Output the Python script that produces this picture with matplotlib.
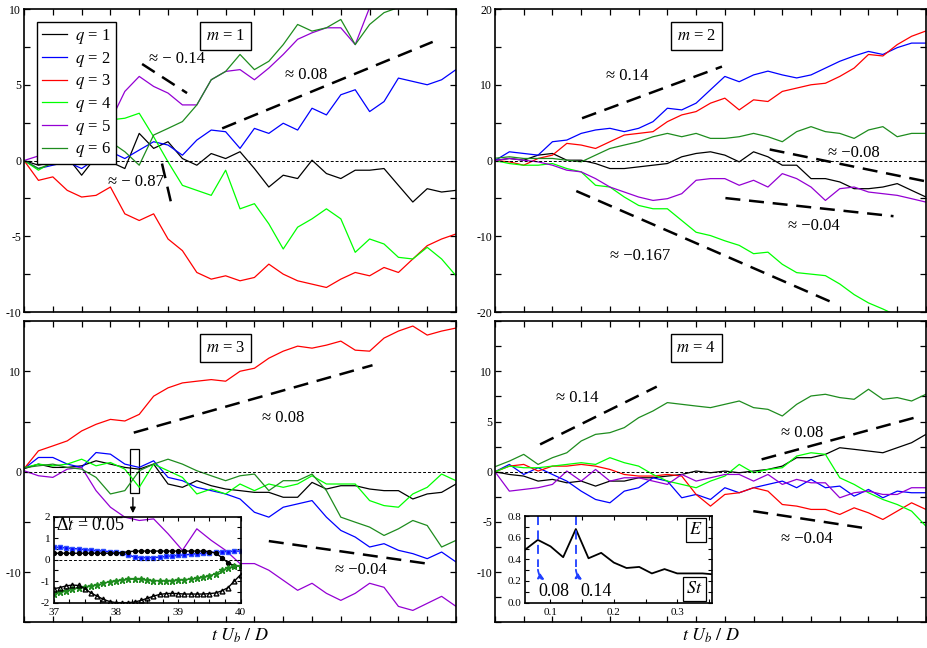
import matplotlib
matplotlib.use('Agg')
import matplotlib.pyplot as plt
from matplotlib.ticker import MultipleLocator, NullFormatter, FixedLocator
from matplotlib.patches import Rectangle

plt.rcParams['font.family'] = ['Liberation Serif', 'DejaVu Serif']
plt.rcParams['mathtext.fontset'] = 'stix'
plt.rcParams['axes.unicode_minus'] = False
plt.rcParams['axes.linewidth'] = 1.2

# time axis (t U_b / D), read every 5 units
t = [0, 5, 10, 15, 20, 25, 30, 35, 40, 45, 50, 55, 60, 65, 70, 75,
     80, 85, 90, 95, 100, 105, 110, 115, 120, 125, 130, 135, 140, 145, 150]

labels = ['$q$ = 1', '$q$ = 2', '$q$ = 3', '$q$ = 4', '$q$ = 5', '$q$ = 6']
colors = ['#000000', '#0000ff', '#ff0000', '#00ff00', '#9400d3', '#1e8c1e']

# m = 1
m1_q1 = [0, -0.31, -0.09, 0.24, -0.97, 0.24, -0.09, -0.53, 1.79, 0.80, 1.24, 0.13, -0.31, 0.46, 0.13, 0.58,
         -0.53, -1.75, -0.97, -1.19, 0.02, -0.86, -1.19, -0.64, -0.64, -0.53, -1.64, -2.74, -1.86, -2.08, -1.97]
m1_q2 = [0, -0.53, -0.31, -0.09, -0.53, 0.13, 0.58, 0.13, 0.69, 1.24, 1.02, 0.35, 1.35, 2.01, 1.90, 0.80,
         2.12, 1.79, 2.46, 2.01, 3.45, 3.01, 4.34, 4.67, 3.23, 3.89, 5.44, 5.22, 5.00, 5.33, 6.00]
m1_q3 = [0, -1.31, -1.08, -1.97, -2.41, -2.30, -1.75, -3.52, -3.96, -3.52, -5.18, -5.95, -7.39, -7.83, -7.61, -7.94,
         -7.72, -6.84, -7.50, -7.94, -8.16, -8.38, -7.83, -7.39, -7.61, -7.06, -7.39, -6.50, -5.62, -5.18, -4.85]
m1_q4 = [0, -0.64, -0.09, 0.35, 0.58, 1.90, 2.68, 2.79, 3.12, 1.57, -0.09, -1.64, -1.97, -2.30, -0.64, -3.19,
         -2.85, -4.18, -5.84, -4.40, -3.85, -3.19, -3.85, -6.06, -5.18, -5.51, -6.39, -6.50, -5.73, -6.50, -7.61]
m1_q5 = [0, 0.3, 0.6, 0.9, 1.4, 1.8, 2.6, 4.56, 5.55, 4.89, 4.45, 3.67, 3.67, 5.33, 5.88, 6.0,
         5.33, 6.1, 7.0, 8.0, 8.43, 8.76, 8.76, 7.65, 10.1, 10.8, 11.0, 10.6, 11.0, 11.2, 11.5]
m1_q6 = [0, -0.53, -0.2, 0.58, 0.91, 0.8, 1.24, 0.58, -0.31, 1.68, 2.12, 2.57, 3.67, 5.33, 5.88, 7.0,
         6.0, 6.55, 7.65, 8.98, 8.54, 8.76, 9.31, 7.65, 8.98, 9.76, 10.1, 10.2, 10.1, 10.05, 9.98]

# m = 2
m2_q1 = [0, 0.27, 0.04, 0.71, 0.93, 0.04, 0.04, -0.40, -1.06, -1.06, -0.84, -0.62, -0.40, 0.49, 0.93, 1.15,
         0.71, -0.18, 1.15, 0.49, -0.62, -0.62, -2.39, -2.39, -2.83, -3.72, -3.72, -3.50, -3.05, -3.94, -4.82]
m2_q2 = [0, 1.15, 0.93, 0.71, 2.48, 2.70, 3.58, 4.03, 4.25, 3.81, 4.25, 5.13, 6.90, 6.68, 7.57, 9.34,
         11.1, 10.4, 11.3, 11.8, 11.3, 10.9, 11.3, 12.2, 13.1, 13.8, 14.4, 14.0, 14.9, 15.5, 15.5]
m2_q3 = [0, -0.18, -0.62, 0.27, 0.71, 2.26, 2.04, 1.59, 2.48, 3.36, 3.58, 3.81, 5.13, 6.02, 6.46, 7.57,
         8.23, 6.68, 8.01, 7.79, 9.12, 9.56, 10.0, 10.2, 11.1, 12.2, 14.0, 13.8, 15.3, 16.4, 17.1]
m2_q4 = [0, -0.40, -0.62, -0.62, -0.40, -1.06, -1.50, -3.27, -3.50, -4.82, -5.93, -6.37, -6.37, -7.92, -9.47, -9.91,
         -10.6, -11.2, -12.3, -12.1, -13.7, -14.8, -15.0, -15.2, -16.3, -17.7, -18.8, -19.6, -20.5, -21.4, -22.3]
m2_q5 = [0, 0.27, 0.04, -0.18, -0.62, -1.28, -1.50, -2.39, -3.50, -4.16, -4.82, -5.27, -5.04, -4.38, -2.61, -2.39,
         -2.39, -3.27, -2.61, -3.50, -1.73, -2.39, -3.50, -5.27, -3.72, -3.50, -4.16, -4.38, -4.60, -5.04, -5.49]
m2_q6 = [0.3, 0.49, 0.27, 0.27, 0.27, 0.04, -0.18, 0.71, 1.59, 2.04, 2.48, 3.14, 3.58, 3.14, 3.58, 2.92,
         2.92, 3.14, 3.58, 3.14, 2.48, 3.81, 4.47, 3.81, 3.58, 2.92, 4.03, 4.47, 3.14, 3.58, 3.58]

# m = 3
m3_q1 = [0.3, 0.76, 0.43, 0.43, 0.59, 1.09, 0.76, 0.43, 0.26, 0.76, -1.22, -1.55, -0.89, -1.39, -1.72, -1.88,
         -2.05, -2.05, -2.54, -2.54, -1.06, -1.72, -1.39, -1.39, -1.72, -1.88, -1.88, -2.71, -2.21, -2.05, -1.22]
m3_q2 = [0.3, 1.42, 1.42, 0.76, 0.43, 1.91, 1.75, 0.76, 0.43, 1.09, -0.56, -0.89, -1.55, -1.88, -2.21, -2.71,
         -4.03, -4.52, -3.53, -3.20, -2.87, -4.52, -5.84, -6.50, -7.49, -7.16, -7.82, -8.15, -8.65, -7.99, -8.98]
m3_q3 = [0.3, 2.08, 2.57, 3.07, 4.06, 4.72, 5.21, 5.05, 5.71, 7.52, 8.35, 8.84, 9.01, 9.17, 9.01, 10.0,
         10.3, 11.3, 12.0, 12.5, 12.3, 12.6, 13.0, 12.1, 12.0, 13.3, 14.0, 14.5, 13.6, 14.0, 14.3]
m3_q4 = [0.4, 0.76, 0.59, 0.76, 1.25, 0.59, 0.92, 0.26, -1.55, 0.76, 0.10, -0.56, -2.21, -1.72, -2.21, -1.22,
         -1.88, -1.22, -1.55, -1.22, -0.40, -1.22, -1.22, -1.22, -2.87, -3.37, -3.53, -2.21, -1.55, -0.23, -0.89]
m3_q5 = [0.10, -0.40, -0.56, 0.26, 0.43, -1.88, -3.53, -4.52, -4.85, -4.69, -6.17, -7.82, -5.68, -6.83, -7.82, -9.14,
         -9.14, -9.80, -10.8, -11.8, -11.1, -12.1, -12.8, -12.1, -11.1, -11.5, -13.4, -13.8, -13.1, -12.4, -13.4]
m3_q6 = [0.4, 0.59, 0.76, 0.43, 0.26, -0.56, -2.21, -1.88, 0.10, 0.76, 1.25, 0.76, 0.10, -0.40, -0.89, -0.40,
         -0.23, -1.88, -0.89, -0.89, -0.23, -1.88, -4.52, -5.02, -5.51, -6.34, -5.68, -4.85, -5.35, -7.49, -6.83]

# m = 4
m4_q1 = [0, -0.27, -0.43, -0.93, -0.76, -1.10, -0.93, -1.43, -0.93, -0.93, -0.60, -0.60, -0.43, -0.27, 0.07, -0.10,
         0.07, -0.10, 0.07, 0.23, 0.56, 1.40, 1.40, 1.73, 2.39, 2.23, 2.06, 1.89, 2.39, 2.89, 3.72]
m4_q2 = [0, 0.73, -0.27, 0.40, -0.27, -0.93, -1.93, -2.76, -3.09, -1.93, -1.59, -0.60, -0.93, -2.59, -2.26, -2.76,
         -1.59, -2.09, -1.59, -1.26, -0.93, -1.59, -0.76, -1.59, -1.43, -2.43, -1.76, -2.59, -1.93, -2.09, -2.09]
m4_q3 = [0, 0.56, 0.73, 0.07, 0.56, 0.56, 0.73, 0.56, 0.23, -0.27, -0.43, -0.43, -0.27, -0.43, -2.26, -3.42,
         -2.26, -2.09, -1.59, -1.93, -3.26, -3.42, -3.75, -3.75, -4.25, -3.59, -4.09, -4.75, -3.92, -3.09, -3.75]
m4_q4 = [0, 0.56, 0.40, 0.40, 0.56, 0.73, 0.90, 0.73, 1.40, 0.90, 0.56, -0.27, -0.93, -1.26, -1.59, -0.93,
         -0.43, 0.73, -0.10, 0.23, 0.40, 1.56, 1.89, 1.73, -0.60, -1.26, -2.09, -2.76, -3.26, -3.92, -5.42]
m4_q5 = [0, -1.93, -1.76, -1.59, -1.26, 0.07, -0.93, 0.23, -0.93, -0.60, -0.60, -0.93, -1.26, -0.27, -0.93, -0.60,
         -0.27, -0.27, -0.93, -0.27, -1.26, -0.76, -1.10, -1.10, -2.59, -2.09, -1.93, -2.26, -2.26, -1.59, -1.59]
m4_q6 = [0.5, 1.06, 1.73, 0.73, 1.40, 1.89, 3.06, 3.72, 3.89, 4.39, 5.38, 6.05, 6.88, 6.71, 6.54, 6.38,
         6.71, 7.04, 6.38, 6.21, 5.55, 6.71, 7.54, 7.71, 7.38, 7.21, 8.21, 7.21, 7.38, 7.04, 7.71]

# inset m = 3 (zoom 37..40, dt = 0.05)
ins_t = [37.0, 37.1, 37.2, 37.3, 37.4, 37.5, 37.6, 37.7, 37.8, 37.9, 38.0, 38.1, 38.2, 38.3, 38.4, 38.5,
         38.6, 38.7, 38.8, 38.9, 39.0, 39.1, 39.2, 39.3, 39.4, 39.5, 39.6, 39.7, 39.8, 39.9, 40.0]
ins_blue = [0.58, 0.57, 0.55, 0.52, 0.50, 0.47, 0.44, 0.42, 0.40, 0.37, 0.35, 0.30, 0.22, 0.12, 0.10, 0.10,
            0.10, 0.12, 0.15, 0.18, 0.20, 0.22, 0.25, 0.28, 0.30, 0.33, 0.35, 0.37, 0.38, 0.40, 0.40]
ins_black = [0.30, 0.30, 0.30, 0.30, 0.30, 0.30, 0.30, 0.30, 0.30, 0.30, 0.30, 0.33, 0.37, 0.40, 0.40, 0.40,
             0.40, 0.40, 0.40, 0.40, 0.40, 0.40, 0.40, 0.40, 0.40, 0.38, 0.30, 0.10, -0.15, -0.28, -0.30]
ins_green = [-1.60, -1.52, -1.45, -1.38, -1.32, -1.27, -1.22, -1.18, -1.10, -1.02, -0.98, -0.95, -0.92, -0.90, -0.92, -0.95,
             -0.97, -0.98, -0.98, -0.97, -0.95, -0.93, -0.90, -0.87, -0.82, -0.75, -0.65, -0.50, -0.38, -0.30, -0.30]
ins_tri = [-1.35, -1.30, -1.22, -1.18, -1.20, -1.35, -1.55, -1.70, -1.85, -1.95, -2.00, -2.00, -2.00, -1.97, -1.90, -1.80,
           -1.70, -1.62, -1.58, -1.57, -1.58, -1.60, -1.60, -1.60, -1.60, -1.58, -1.55, -1.45, -1.30, -1.00, -0.70]

# inset m = 4 (energy vs Strouhal)
St = [0.06, 0.08, 0.10, 0.12, 0.14, 0.16, 0.18, 0.20, 0.22, 0.24, 0.26, 0.28, 0.30, 0.32, 0.34, 0.36]
E = [0.49, 0.58, 0.52, 0.42, 0.68, 0.41, 0.46, 0.37, 0.32, 0.33, 0.27, 0.31, 0.27, 0.27, 0.27, 0.26]

fig = plt.figure(figsize=(9.28, 6.48), dpi=100)
ax1 = fig.add_axes([0.0259, 0.5185, 0.4655, 0.4676])
ax2 = fig.add_axes([0.5334, 0.5185, 0.4644, 0.4676])
ax3 = fig.add_axes([0.0259, 0.0394, 0.4655, 0.4652])
ax4 = fig.add_axes([0.5334, 0.0394, 0.4644, 0.4652])

dash = (0, (6, 3.5))


def panel(ax, series, ylim, yticks, yminor, mlabel):
    for y, c, lab in zip(series, colors, labels):
        ax.plot(t, y, color=c, lw=0.9, label=lab)
    ax.axhline(0, color='k', lw=0.7, ls=(0, (3, 2)))
    ax.set_xlim(0, 150)
    ax.set_ylim(*ylim)
    ax.xaxis.set_major_locator(MultipleLocator(10))
    ax.xaxis.set_major_formatter(NullFormatter())
    ax.yaxis.set_major_locator(FixedLocator(yticks))
    ax.yaxis.set_minor_locator(MultipleLocator(yminor))
    ax.tick_params(which='both', direction='in', top=True, right=True,
                   length=4, width=0.9, labelsize=8.5, pad=2)
    ax.text(0.467, 0.91, mlabel, transform=ax.transAxes, fontsize=12,
            ha='center', va='center',
            bbox=dict(boxstyle='square,pad=0.35', fc='white', ec='k', lw=1.0))


def slope(ax, p0, p1, txt, tx, ty):
    ax.plot([p0[0], p1[0]], [p0[1], p1[1]], color='k', lw=1.8, ls=dash)
    ax.text(tx, ty, txt, fontsize=12, ha='center', va='center')


panel(ax1, [m1_q1, m1_q2, m1_q3, m1_q4, m1_q5, m1_q6], (-10, 10), [-10, -5, 0, 5, 10], 2.5, '$m$ = 1')
panel(ax2, [m2_q1, m2_q2, m2_q3, m2_q4, m2_q5, m2_q6], (-20, 20), [-20, -10, 0, 10, 20], 5, '$m$ = 2')
panel(ax3, [m3_q1, m3_q2, m3_q3, m3_q4, m3_q5, m3_q6], (-15, 15), [-10, 0, 10], 5, '$m$ = 3')
panel(ax4, [m4_q1, m4_q2, m4_q3, m4_q4, m4_q5, m4_q6], (-15, 15), [-10, -5, 0, 5, 10], 2.5, '$m$ = 4')

leg = ax1.legend(loc='upper left', bbox_to_anchor=(0.03, 0.957), borderaxespad=0, fontsize=12,
                 fancybox=False, edgecolor='k', framealpha=1, handlelength=1.5, handletextpad=0.5,
                 labelspacing=0.22, borderpad=0.3)
leg.get_frame().set_linewidth(1.0)

slope(ax1, (68.8, 2.12), (141.9, 7.83), '≈ 0.08', 98, 5.66)
slope(ax1, (41.0, 6.37), (56.6, 4.45), '≈ − 0.14', 53, 6.7)
slope(ax1, (47.9, -0.2), (51.0, -2.74), '≈ − 0.87', 39, -1.42)

slope(ax2, (30.3, 5.58), (79.0, 12.4), '≈ 0.14', 46, 11.1)
slope(ax2, (95.6, 1.46), (149.8, -2.74), '≈ −0.08', 125, 0.93)
slope(ax2, (80.2, -4.96), (138.7, -7.35), '≈ −0.04', 111, -8.58)
slope(ax2, (28.3, -4.03), (118.4, -18.9), '≈ −0.167', 50.6, -12.6)

slope(ax3, (38.1, 3.89), (121.0, 10.6), '≈ 0.08', 90, 5.38)
slope(ax3, (85.0, -6.9), (139.9, -9.14), '≈ −0.04', 117, -9.8)
ax3.add_patch(Rectangle((36.7, -2.15), 3.2, 4.4, fill=False, ec='k', lw=0.9))
ax3.annotate('', xy=(37.8, -4.4), xytext=(37.8, -2.3),
             arrowprops=dict(arrowstyle='-|>', color='k', lw=1.0, mutation_scale=8))

slope(ax4, (15.7, 2.72), (56.3, 8.47), '≈ 0.14', 28.7, 7.38)
slope(ax4, (92.8, 1.23), (147.3, 5.48), '≈ 0.08', 107, 3.89)
slope(ax4, (89.9, -3.92), (128.0, -5.58), '≈ −0.04', 108.5, -6.74)

for ax in (ax3, ax4):
    ax.set_xlabel('$t\\ U_b\\ /\\ D$', fontsize=13, labelpad=1)

# inset in m = 3
axi = fig.add_axes([0.0578, 0.070, 0.2014, 0.1326], facecolor='none')
axi.plot(ins_t, ins_blue, color='#0000ff', marker='s', ms=3.2, mec='#3050ff', mfc='#0000ff', lw=1.0)
axi.plot(ins_t, ins_black, color='k', marker='o', ms=2.8, lw=1.0)
axi.plot(ins_t, ins_green, color='#1e8c1e', marker='*', ms=4.5, lw=1.0)
axi.plot(ins_t, ins_tri, color='k', marker='^', ms=3.5, mfc='none', lw=1.0)
axi.axhline(0, color='k', lw=0.7, ls=(0, (3, 2)))
axi.set_xlim(37, 40)
axi.set_ylim(-2, 2)
axi.xaxis.set_major_locator(MultipleLocator(1))
axi.xaxis.set_minor_locator(MultipleLocator(0.25))
axi.yaxis.set_major_locator(MultipleLocator(1))
axi.yaxis.set_minor_locator(MultipleLocator(0.5))
axi.tick_params(which='both', direction='in', top=True, right=True, length=3, width=0.8,
                labelsize=8)
axi.tick_params(axis='x', pad=3.5)
axi.tick_params(axis='y', pad=2.5)
axi.text(37.04, 1.6, 'Δ$t$ = 0.05', fontsize=13, ha='left', va='center')

# inset in m = 4
axe = fig.add_axes([0.5659, 0.070, 0.2014, 0.1336], facecolor='none')
axe.plot(St, E, color='k', lw=1.3)
for s0, s1 in ((0.08, 0.0947), (0.14, 0.154)):
    axe.plot([s0, s0], [0.8, 0.33], color='#1f3fff', lw=1.3, ls=(0, (5, 3)))
    axe.annotate('', xy=(s1, 0.2), xytext=(s0, 0.33),
                 arrowprops=dict(arrowstyle='-|>', color='#1f3fff', lw=1.3, ls='--',
                                 connectionstyle='arc3,rad=0.35', mutation_scale=8))
axe.text(0.0805, 0.1, '0.08', fontsize=13, ha='left', va='center')
axe.text(0.1465, 0.1, '0.14', fontsize=13, ha='left', va='center')
axe.text(0.95, 0.94, '$E$', transform=axe.transAxes, fontsize=13, ha='right', va='top',
         bbox=dict(boxstyle='square,pad=0.2', fc='white', ec='k', lw=0.9))
axe.text(0.95, 0.06, '$St$', transform=axe.transAxes, fontsize=13, ha='right', va='bottom',
         bbox=dict(boxstyle='square,pad=0.2', fc='white', ec='k', lw=0.9))
axe.set_xlim(0.06, 0.355)
axe.set_ylim(0, 0.8)
axe.xaxis.set_major_locator(MultipleLocator(0.1))
axe.xaxis.set_minor_locator(MultipleLocator(0.05))
axe.yaxis.set_major_locator(MultipleLocator(0.2))
axe.yaxis.set_minor_locator(MultipleLocator(0.1))
axe.tick_params(which='both', direction='in', top=True, right=True, length=3, width=0.8,
                labelsize=8)
axe.tick_params(axis='x', pad=3.5)
axe.tick_params(axis='y', pad=2.5)

fig.savefig('out.png', dpi=100)
